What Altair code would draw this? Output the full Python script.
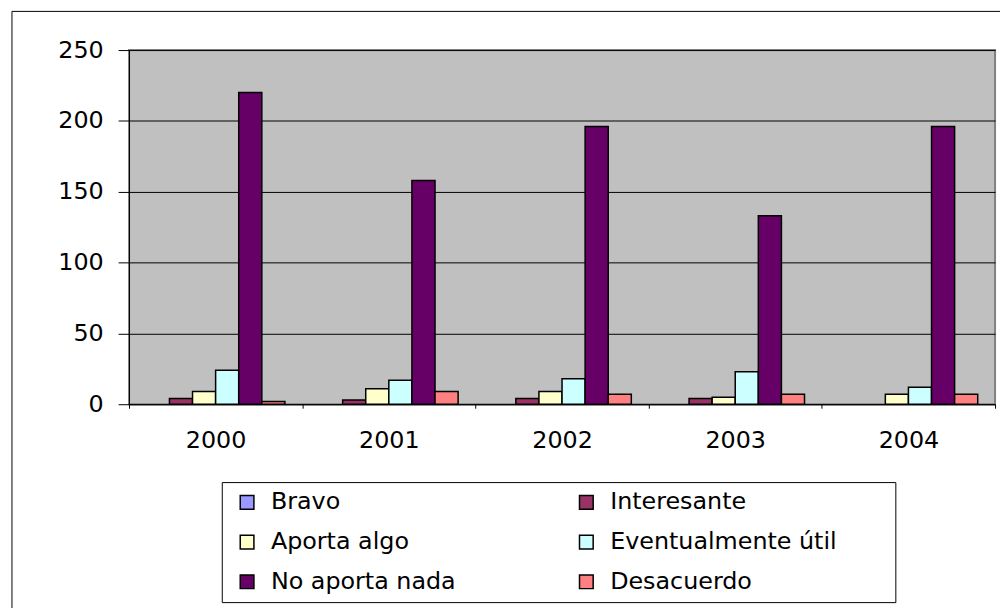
import altair as alt
import pandas as pd

years = ["2000", "2001", "2002", "2003", "2004"]
series = ["Bravo", "Interesante", "Aporta algo", "Eventualmente útil", "No aporta nada", "Desacuerdo"]
bravo = [0, 0, 0, 0, 0]
interesante = [4, 3, 4, 4, 0]
aporta_algo = [9, 11, 9, 5, 7]
eventual = [24, 17, 18, 23, 12]
no_aporta = [220, 158, 196, 133, 196]
desacuerdo = [2, 9, 7, 7, 7]
colors = ["#9999FF", "#993366", "#FFFFCC", "#CCFFFF", "#660066", "#FF8080"]
y_ticks = [0, 50, 100, 150, 200, 250]

# legend reading order (two columns, filled column by column)
legend_order = ["Bravo", "Aporta algo", "No aporta nada", "Interesante", "Eventualmente útil", "Desacuerdo"]
legend_colors = [colors[series.index(s)] for s in legend_order]

rows = []
for s, vals in zip(series, [bravo, interesante, aporta_algo, eventual, no_aporta, desacuerdo]):
    for yr, v in zip(years, vals):
        rows.append({"year": yr, "serie": s, "value": v})
df = pd.DataFrame(rows)

FONT = "DejaVu Sans"
FS = 24

bars = alt.Chart(df).transform_filter("datum.value > 0").mark_bar(
    stroke="black", strokeWidth=1.5
).encode(
    x=alt.X("year:N", sort=years, title=None,
            scale=alt.Scale(paddingInner=0, paddingOuter=0),
            axis=alt.Axis(labelAngle=0, tickBand="extent", tickSize=4, tickColor="black",
                          domainColor="black", labelFontSize=FS, labelFont=FONT,
                          labelColor="black", labelPadding=21, grid=False)),
    xOffset=alt.XOffset("serie:N", sort=series,
                        scale=alt.Scale(domain=series, paddingInner=0, paddingOuter=0.75)),
    y=alt.Y("value:Q", title=None, scale=alt.Scale(domain=[0, 250], nice=False),
            axis=alt.Axis(values=y_ticks, tickSize=11, tickColor="black", domainColor="black",
                          labelFontSize=FS, labelFont=FONT, labelColor="black", labelPadding=15,
                          gridColor="black", gridWidth=1)),
    color=alt.Color("serie:N", scale=alt.Scale(domain=legend_order, range=legend_colors),
                    legend=alt.Legend(title=None, orient="none", legendX=107, legendY=444,
                                      columns=2, columnPadding=119, rowPadding=16,
                                      labelFontSize=FS, labelFont=FONT, labelColor="black",
                                      labelLimit=500, labelOffset=12, symbolType="square",
                                      symbolSize=190, symbolStrokeColor="black",
                                      symbolStrokeWidth=1.5, symbolOpacity=1)),
)

one = pd.DataFrame({"a": [0]})
chart_border = alt.Chart(one).mark_rect(fillOpacity=0, stroke="black", strokeWidth=1).encode(
    x=alt.value(-118), x2=alt.value(885), y=alt.value(-39), y2=alt.value(565)
)
legend_box = alt.Chart(one).mark_rect(fill="white", stroke="black", strokeWidth=1).encode(
    x=alt.value(94), x2=alt.value(773), y=alt.value(436), y2=alt.value(557)
)

chart = alt.layer(chart_border, legend_box, bars).properties(
    width=873, height=357,
    padding={"left": 122, "top": 40, "right": 5, "bottom": 203},
    autosize=alt.AutoSizeParams(type="none"),
    background="white",
).configure_view(fill="#C0C0C0", stroke="#808080", strokeWidth=2)

chart.save("out.html", embed_options={"renderer": "svg", "actions": False})
